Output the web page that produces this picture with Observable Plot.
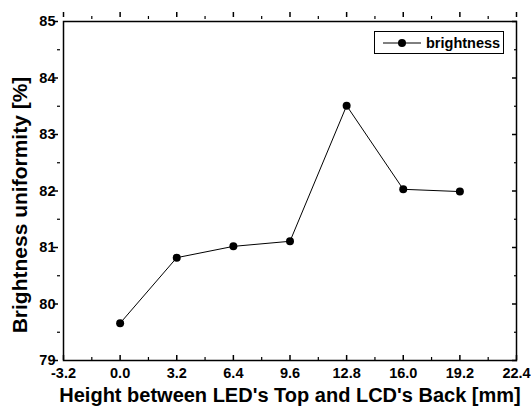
<!DOCTYPE html>
<html>
<head>
<meta charset="utf-8">
<script src="https://cdn.jsdelivr.net/npm/d3@7"></script>
<script src="https://cdn.jsdelivr.net/npm/@observablehq/plot@0.6"></script>
<style>
  html, body { margin: 0; padding: 0; background: #fff; }
  #wrap { position: relative; width: 531px; height: 410px; font-family: "Liberation Sans", Arial, sans-serif; }
  #legend { position: absolute; left: 374px; top: 31px; width: 130px; height: 23px; border: 1px solid #000; background: #fff; display: flex; align-items: center; box-sizing: border-box; }
  #legend span { font-weight: bold; font-size: 14.5px; margin-left: 3px; }
</style>
</head>
<body>
<div id="wrap"></div>
<script>
const heights = [0.0, 3.2, 6.4, 9.6, 12.8, 16.0, 19.2];
const brightness = [79.66, 80.82, 81.02, 81.11, 83.51, 82.03, 81.99];
const xTicks = [-3.2, 0.0, 3.2, 6.4, 9.6, 12.8, 16.0, 19.2, 22.4];
const xMinor = [-1.6, 1.6, 4.8, 8.0, 11.2, 14.4, 17.6, 20.8];
const yTicks = [79, 80, 81, 82, 83, 84, 85];
const yMinor = [79.5, 80.5, 81.5, 82.5, 83.5, 84.5];
const xTitle = "Height between LED's Top and LCD's Back [mm]";
const yTitle = "Brightness uniformity [%]";
const seriesName = "brightness";

const data = heights.map((h, i) => ({x: h, y: brightness[i]}));
const blank = () => "";
const inX = (ticks, anchor, size, w) => Plot.axisX(ticks, {anchor, tickSize: size, dy: -size, tickFormat: blank, label: null, strokeWidth: w});
const inY = (ticks, anchor, size, w) => Plot.axisY(ticks, {anchor, tickSize: size, dx: -size, tickFormat: blank, label: null, strokeWidth: w});

const chart = Plot.plot({
  width: 531,
  height: 410,
  marginLeft: 63,
  marginRight: 15,
  marginTop: 21,
  marginBottom: 50,
  style: {fontFamily: "'Liberation Sans', Arial, sans-serif", fontWeight: "bold", fontSize: "14px", color: "#000", background: "#fff"},
  x: {domain: [-3.2, 22.4]},
  y: {domain: [79, 85]},
  marks: [
    // tick labels
    Plot.axisX(xTicks, {anchor: "bottom", tickSize: 0, tickPadding: 7, tickFormat: d => d.toFixed(1), label: null, fontSize: 14.5, fontWeight: "bold", fill: "#000"}),
    Plot.axisY(yTicks, {anchor: "left", tickSize: 0, tickPadding: 8, tickFormat: d => String(d), label: null, fontSize: 14.5, fontWeight: "bold", fill: "#000"}),
    // inward major ticks on all sides
    inX(xTicks, "bottom", 5, 1.5),
    inX(xTicks, "top", 5, 1.5),
    inY(yTicks, "left", 5, 1.5),
    inY(yTicks, "right", 5, 1.5),
    // inward minor ticks
    inX(xMinor, "bottom", 3, 1.2),
    inX(xMinor, "top", 3, 1.2),
    inY(yMinor, "left", 3, 1.2),
    inY(yMinor, "right", 3, 1.2),
    Plot.frame({stroke: "#000", strokeWidth: 1.5}),
    // axis titles
    Plot.text([xTitle], {frameAnchor: "bottom", dy: 35, fontSize: 20, fontWeight: "bold", lineAnchor: "middle", textAnchor: "middle"}),
    Plot.text([yTitle], {frameAnchor: "left", dx: -43, dy: 14, rotate: -90, fontSize: 21, fontWeight: "bold", lineAnchor: "middle", textAnchor: "middle"}),
    // data
    Plot.line(data, {x: "x", y: "y", stroke: "#000", strokeWidth: 1}),
    Plot.dot(data, {x: "x", y: "y", r: 4, fill: "#000", stroke: "none"})
  ]
});

const wrap = document.getElementById("wrap");
wrap.appendChild(chart);

const legend = document.createElement("div");
legend.id = "legend";
legend.innerHTML = `<svg width="44" height="20" style="margin-left:4px"><line x1="4" y1="10" x2="42" y2="10" stroke="#000" stroke-width="1"/><circle cx="23" cy="10" r="4" fill="#000"/></svg><span></span>`;
legend.querySelector("span").textContent = seriesName;
wrap.appendChild(legend);
</script>
</body>
</html>
